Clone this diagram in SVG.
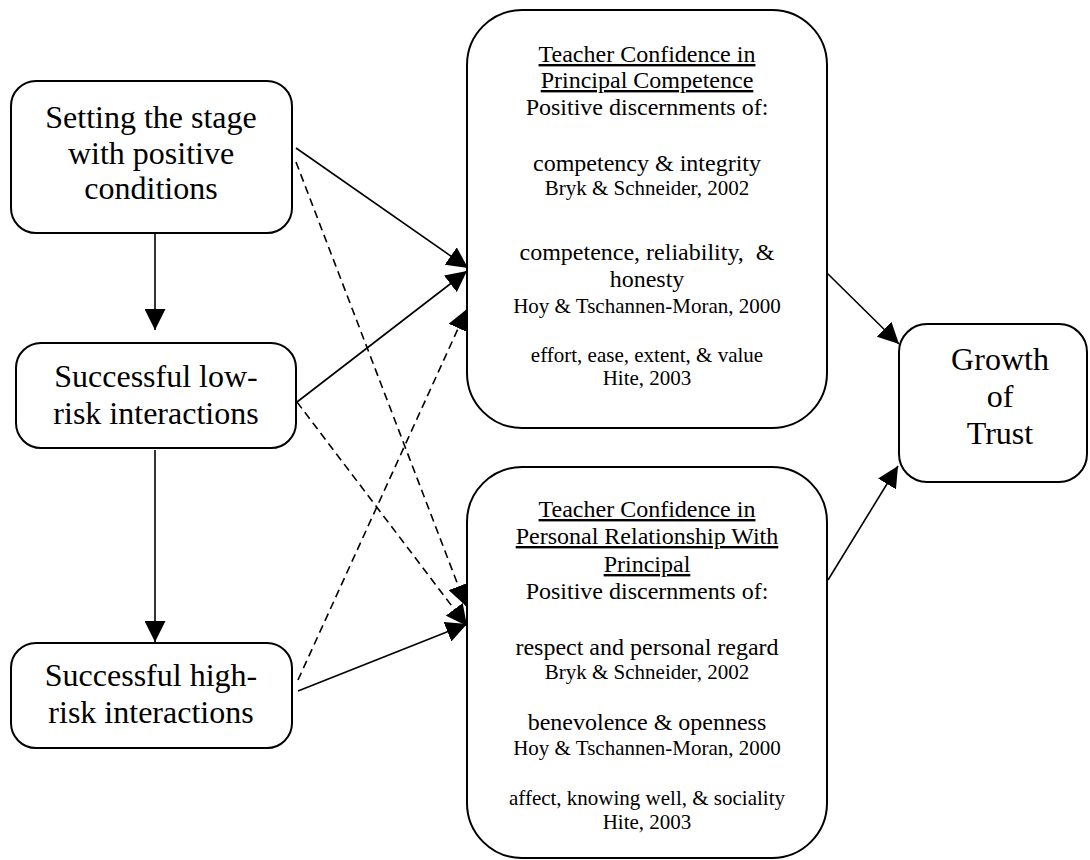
<svg xmlns="http://www.w3.org/2000/svg" width="1090" height="860" viewBox="0 0 1090 860">
<defs>
<style>
.box{fill:#fff;stroke:#000;stroke-width:2}
.t{font-family:"Liberation Serif","Times New Roman",serif;fill:#000;text-anchor:middle}
.big{font-size:32px}
.mid{font-size:24px}
.sm{font-size:21px}
.u{text-decoration:underline}
.c{fill:none;stroke:#000;stroke-width:1.6}
.d{stroke-dasharray:8 5}
</style>
<marker id="ah" markerUnits="userSpaceOnUse" markerWidth="21" markerHeight="21" viewBox="0 0 20 20" refX="20" refY="10" orient="auto">
<path d="M0,0 L20,10 L0,20 z" fill="#000"/>
</marker>
</defs>
<rect width="1090" height="860" fill="#fff"/>
<g id="connectors">
<line class="c" x1="155" y1="234" x2="155" y2="330" marker-end="url(#ah)"/>
<line class="c" x1="155" y1="450" x2="155" y2="642" marker-end="url(#ah)"/>
<line class="c" x1="296" y1="148" x2="468" y2="268" marker-end="url(#ah)"/>
<line class="c" x1="297" y1="402" x2="467" y2="271" marker-end="url(#ah)"/>
<line class="c d" x1="298" y1="680" x2="467" y2="309" marker-end="url(#ah)"/>
<line class="c d" x1="296" y1="162" x2="466" y2="606" marker-end="url(#ah)"/>
<line class="c d" x1="297" y1="402" x2="467" y2="626" marker-end="url(#ah)"/>
<line class="c" x1="298" y1="691" x2="467" y2="624" marker-end="url(#ah)"/>
<line class="c" x1="827" y1="273" x2="899" y2="344" marker-end="url(#ah)"/>
<line class="c" x1="828" y1="580" x2="898" y2="466" marker-end="url(#ah)"/>
</g>
<g id="n1">
<rect class="box" x="11" y="81" width="281" height="152" rx="25"/>
<text class="t big" x="151" y="128">Setting the stage</text>
<text class="t big" x="151" y="164">with positive</text>
<text class="t big" x="151" y="199">conditions</text>
</g>
<g id="n2">
<rect class="box" x="16" y="343" width="280" height="105" rx="25"/>
<text class="t big" x="156" y="387">Successful low-</text>
<text class="t big" x="156" y="424">risk interactions</text>
</g>
<g id="n3">
<rect class="box" x="11" y="643" width="281" height="105" rx="25"/>
<text class="t big" x="151" y="686">Successful high-</text>
<text class="t big" x="151" y="723">risk interactions</text>
</g>
<g id="n4">
<rect class="box" x="467" y="10" width="360" height="418" rx="55"/>
<text class="t mid u" x="647" y="62">Teacher Confidence in</text>
<text class="t mid u" x="647" y="88">Principal Competence</text>
<text class="t mid" x="647" y="115">Positive discernments of:</text>
<text class="t mid" x="647" y="171">competency &amp; integrity</text>
<text class="t sm" x="647" y="195">Bryk &amp; Schneider, 2002</text>
<text class="t mid" x="647" y="260" xml:space="preserve">competence, reliability,  &amp;</text>
<text class="t mid" x="647" y="287">honesty</text>
<text class="t sm" x="647" y="313">Hoy &amp; Tschannen-Moran, 2000</text>
<text class="t sm" x="647" y="362">effort, ease, extent, &amp; value</text>
<text class="t sm" x="647" y="385">Hite, 2003</text>
</g>
<g id="n5">
<rect class="box" x="467" y="467" width="360" height="391" rx="55"/>
<text class="t mid u" x="647" y="517">Teacher Confidence in</text>
<text class="t mid u" x="647" y="544">Personal Relationship With</text>
<text class="t mid u" x="647" y="572">Principal</text>
<text class="t mid" x="647" y="599">Positive discernments of:</text>
<text class="t mid" x="647" y="655">respect and personal regard</text>
<text class="t sm" x="647" y="679">Bryk &amp; Schneider, 2002</text>
<text class="t mid" x="647" y="730">benevolence &amp; openness</text>
<text class="t sm" x="647" y="755">Hoy &amp; Tschannen-Moran, 2000</text>
<text class="t sm" x="647" y="805">affect, knowing well, &amp; sociality</text>
<text class="t sm" x="647" y="829">Hite, 2003</text>
</g>
<g id="n6">
<rect class="box" x="899" y="324" width="188" height="158" rx="28"/>
<text class="t big" x="1000" y="370">Growth</text>
<text class="t big" x="1000" y="407">of</text>
<text class="t big" x="1000" y="444">Trust</text>
</g>
</svg>
